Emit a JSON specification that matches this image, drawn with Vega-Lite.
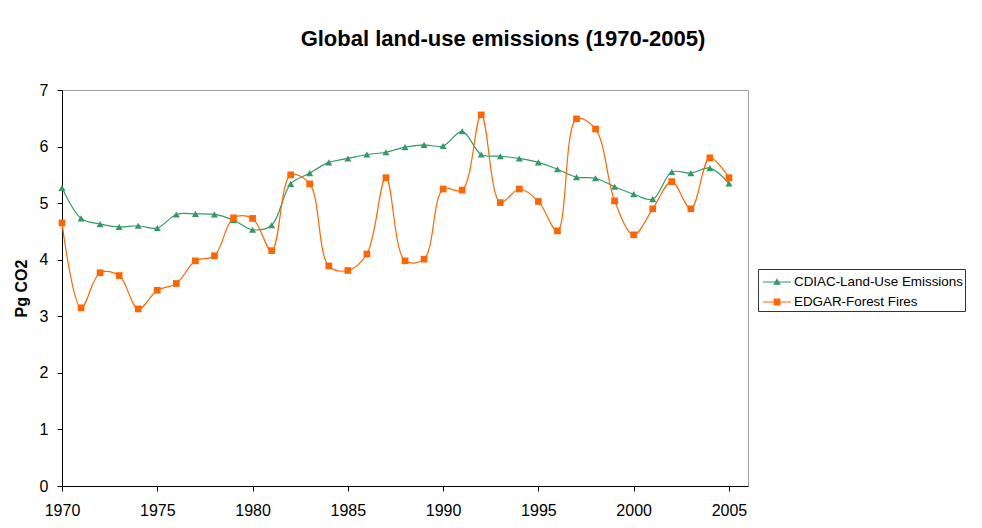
{
  "$schema": "https://vega.github.io/schema/vega-lite/v6.json",
  "width": 686,
  "height": 396,
  "autosize": "none",
  "padding": {"left": 62, "top": 90, "right": 234, "bottom": 42},
  "background": "white",
  "config": {
    "font": "Liberation Sans",
    "view": {"stroke": "#a0a0a0", "strokeWidth": 1}
  },
  "title": {
    "text": "Global land-use emissions (1970-2005)",
    "fontSize": 22,
    "fontWeight": "bold",
    "font": "Liberation Sans",
    "color": "black",
    "anchor": "middle",
    "frame": "group",
    "dx": 98,
    "offset": 31
  },
  "data": {
    "values": [
      {"year": 1970, "series": "CDIAC-Land-Use Emissions", "value": 5.27},
      {"year": 1971, "series": "CDIAC-Land-Use Emissions", "value": 4.73},
      {"year": 1972, "series": "CDIAC-Land-Use Emissions", "value": 4.63},
      {"year": 1973, "series": "CDIAC-Land-Use Emissions", "value": 4.58},
      {"year": 1974, "series": "CDIAC-Land-Use Emissions", "value": 4.60},
      {"year": 1975, "series": "CDIAC-Land-Use Emissions", "value": 4.56},
      {"year": 1976, "series": "CDIAC-Land-Use Emissions", "value": 4.80},
      {"year": 1977, "series": "CDIAC-Land-Use Emissions", "value": 4.81},
      {"year": 1978, "series": "CDIAC-Land-Use Emissions", "value": 4.80},
      {"year": 1979, "series": "CDIAC-Land-Use Emissions", "value": 4.70},
      {"year": 1980, "series": "CDIAC-Land-Use Emissions", "value": 4.53},
      {"year": 1981, "series": "CDIAC-Land-Use Emissions", "value": 4.61},
      {"year": 1982, "series": "CDIAC-Land-Use Emissions", "value": 5.34},
      {"year": 1983, "series": "CDIAC-Land-Use Emissions", "value": 5.53},
      {"year": 1984, "series": "CDIAC-Land-Use Emissions", "value": 5.72},
      {"year": 1985, "series": "CDIAC-Land-Use Emissions", "value": 5.79},
      {"year": 1986, "series": "CDIAC-Land-Use Emissions", "value": 5.86},
      {"year": 1987, "series": "CDIAC-Land-Use Emissions", "value": 5.90},
      {"year": 1988, "series": "CDIAC-Land-Use Emissions", "value": 5.99},
      {"year": 1989, "series": "CDIAC-Land-Use Emissions", "value": 6.03},
      {"year": 1990, "series": "CDIAC-Land-Use Emissions", "value": 6.01},
      {"year": 1991, "series": "CDIAC-Land-Use Emissions", "value": 6.27},
      {"year": 1992, "series": "CDIAC-Land-Use Emissions", "value": 5.86},
      {"year": 1993, "series": "CDIAC-Land-Use Emissions", "value": 5.83},
      {"year": 1994, "series": "CDIAC-Land-Use Emissions", "value": 5.79},
      {"year": 1995, "series": "CDIAC-Land-Use Emissions", "value": 5.72},
      {"year": 1996, "series": "CDIAC-Land-Use Emissions", "value": 5.60},
      {"year": 1997, "series": "CDIAC-Land-Use Emissions", "value": 5.46},
      {"year": 1998, "series": "CDIAC-Land-Use Emissions", "value": 5.44},
      {"year": 1999, "series": "CDIAC-Land-Use Emissions", "value": 5.29},
      {"year": 2000, "series": "CDIAC-Land-Use Emissions", "value": 5.16},
      {"year": 2001, "series": "CDIAC-Land-Use Emissions", "value": 5.07},
      {"year": 2002, "series": "CDIAC-Land-Use Emissions", "value": 5.55},
      {"year": 2003, "series": "CDIAC-Land-Use Emissions", "value": 5.53},
      {"year": 2004, "series": "CDIAC-Land-Use Emissions", "value": 5.62},
      {"year": 2005, "series": "CDIAC-Land-Use Emissions", "value": 5.35},
      {"year": 1970, "series": "EDGAR-Forest Fires", "value": 4.65},
      {"year": 1971, "series": "EDGAR-Forest Fires", "value": 3.15},
      {"year": 1972, "series": "EDGAR-Forest Fires", "value": 3.77},
      {"year": 1973, "series": "EDGAR-Forest Fires", "value": 3.72},
      {"year": 1974, "series": "EDGAR-Forest Fires", "value": 3.13},
      {"year": 1975, "series": "EDGAR-Forest Fires", "value": 3.46},
      {"year": 1976, "series": "EDGAR-Forest Fires", "value": 3.58},
      {"year": 1977, "series": "EDGAR-Forest Fires", "value": 3.98},
      {"year": 1978, "series": "EDGAR-Forest Fires", "value": 4.07},
      {"year": 1979, "series": "EDGAR-Forest Fires", "value": 4.74},
      {"year": 1980, "series": "EDGAR-Forest Fires", "value": 4.73},
      {"year": 1981, "series": "EDGAR-Forest Fires", "value": 4.16},
      {"year": 1982, "series": "EDGAR-Forest Fires", "value": 5.50},
      {"year": 1983, "series": "EDGAR-Forest Fires", "value": 5.34},
      {"year": 1984, "series": "EDGAR-Forest Fires", "value": 3.89},
      {"year": 1985, "series": "EDGAR-Forest Fires", "value": 3.81},
      {"year": 1986, "series": "EDGAR-Forest Fires", "value": 4.10},
      {"year": 1987, "series": "EDGAR-Forest Fires", "value": 5.45},
      {"year": 1988, "series": "EDGAR-Forest Fires", "value": 3.98},
      {"year": 1989, "series": "EDGAR-Forest Fires", "value": 4.01},
      {"year": 1990, "series": "EDGAR-Forest Fires", "value": 5.25},
      {"year": 1991, "series": "EDGAR-Forest Fires", "value": 5.23},
      {"year": 1992, "series": "EDGAR-Forest Fires", "value": 6.56},
      {"year": 1993, "series": "EDGAR-Forest Fires", "value": 5.01},
      {"year": 1994, "series": "EDGAR-Forest Fires", "value": 5.25},
      {"year": 1995, "series": "EDGAR-Forest Fires", "value": 5.03},
      {"year": 1996, "series": "EDGAR-Forest Fires", "value": 4.51},
      {"year": 1997, "series": "EDGAR-Forest Fires", "value": 6.49},
      {"year": 1998, "series": "EDGAR-Forest Fires", "value": 6.31},
      {"year": 1999, "series": "EDGAR-Forest Fires", "value": 5.04},
      {"year": 2000, "series": "EDGAR-Forest Fires", "value": 4.44},
      {"year": 2001, "series": "EDGAR-Forest Fires", "value": 4.90},
      {"year": 2002, "series": "EDGAR-Forest Fires", "value": 5.38},
      {"year": 2003, "series": "EDGAR-Forest Fires", "value": 4.90},
      {"year": 2004, "series": "EDGAR-Forest Fires", "value": 5.80},
      {"year": 2005, "series": "EDGAR-Forest Fires", "value": 5.45}
    ]
  },
  "encoding": {
    "x": {
      "field": "year",
      "type": "quantitative",
      "scale": {"domain": [1970, 2006], "nice": false, "zero": false},
      "axis": {
        "values": [1970, 1975, 1980, 1985, 1990, 1995, 2000, 2005],
        "format": "d",
        "title": null,
        "grid": false,
        "labelFlush": false,
        "domainColor": "black",
        "tickColor": "black",
        "tickSize": 5,
        "labelFontSize": 16,
        "labelColor": "black",
        "labelPadding": 11,
        "labelFont": "Liberation Sans"
      }
    },
    "y": {
      "field": "value",
      "type": "quantitative",
      "scale": {"domain": [0, 7], "nice": false},
      "axis": {
        "values": [0, 1, 2, 3, 4, 5, 6, 7],
        "title": "Pg CO2",
        "titleFontSize": 16,
        "titleFontWeight": "bold",
        "titleColor": "black",
        "titlePadding": 10,
        "titleFont": "Liberation Sans",
        "grid": false,
        "labelFlush": false,
        "domainColor": "black",
        "tickColor": "black",
        "tickSize": 5,
        "labelFontSize": 16,
        "labelColor": "black",
        "labelPadding": 9,
        "labelFont": "Liberation Sans"
      }
    }
  },
  "layer": [
    {
      "mark": {"type": "line", "interpolate": "catmull-rom", "strokeWidth": 1.2},
      "encoding": {
        "color": {
          "field": "series",
          "type": "nominal",
          "scale": {
            "domain": ["CDIAC-Land-Use Emissions", "EDGAR-Forest Fires"],
            "range": ["#339966", "#ff6600"]
          },
          "legend": {
            "title": null,
            "orient": "none",
            "legendX": 696,
            "legendY": 179,
            "padding": 2,
            "strokeColor": "#333333",
            "fillColor": "white",
            "labelFontSize": 13.4,
            "labelColor": "black",
            "labelFont": "Liberation Sans",
            "labelLimit": 300,
            "labelOffset": 12,
            "symbolSize": 400,
            "symbolStrokeWidth": 1.2,
            "rowPadding": 2,
            "encode": {
              "symbols": {
                "update": {
                  "shape": {"signal": "datum.value === 'CDIAC-Land-Use Emissions' ? 'M-0.8,0H2.0M0.32,0.22L0.6,-0.25L0.88,0.22Z' : 'M-0.8,0H2.0M0.32,-0.28H0.88V0.28H0.32Z'"},
                  "fill": {"signal": "datum.value === 'CDIAC-Land-Use Emissions' ? '#339966' : '#ff6600'"},
                  "fillOpacity": {"value": 1}
                }
              }
            }
          }
        }
      }
    },
    {
      "transform": [{"filter": "datum.series === 'CDIAC-Land-Use Emissions'"}],
      "mark": {"type": "point", "filled": true, "opacity": 1, "size": 50, "shape": "triangle-up", "color": "#339966"},
      "encoding": {}
    },
    {
      "transform": [{"filter": "datum.series === 'EDGAR-Forest Fires'"}],
      "mark": {"type": "point", "filled": true, "opacity": 1, "size": 45, "shape": "square", "color": "#ff6600"},
      "encoding": {}
    }
  ]
}
